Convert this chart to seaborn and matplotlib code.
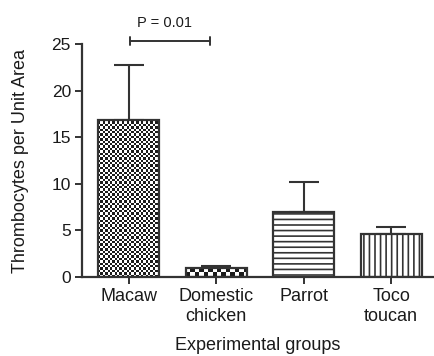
import numpy as np
import pandas as pd
import matplotlib
matplotlib.use("Agg")
import matplotlib.pyplot as plt
import seaborn as sns

# data
groups = ["Macaw", "Domestic\nchicken", "Parrot", "Toco\ntoucan"]
means = [16.9, 1.0, 6.95, 4.6]
sem = [5.85, 0.2, 3.25, 0.8]
y_ticks = [0, 5, 10, 15, 20, 25]
p_text = "P = 0.01"

sns.set_style("ticks")
plt.rcParams["font.family"] = ["Liberation Sans", "DejaVu Sans"]
plt.rcParams["hatch.linewidth"] = 1.2
plt.rcParams["hatch.color"] = "#333333"

ink = "#333333"
df = pd.DataFrame({"group": groups, "value": means})

fig = plt.figure(figsize=(4.34, 3.56), dpi=100)
ax = fig.add_axes([0.189, 0.222, 0.809, 0.654])

sns.barplot(data=df, x="group", y="value", color="white", edgecolor=ink,
            linewidth=1.6, width=0.7, errorbar=None, ax=ax, zorder=2)

# one-sided error bars (upward only)
ax.errorbar(range(len(groups)), means, yerr=[np.zeros(len(sem)), sem],
            fmt="none", ecolor=ink, elinewidth=1.5, capsize=11, capthick=1.5,
            zorder=1)

# fill patterns
bars = ax.patches
bars[2].set_hatch("---")
bars[3].set_hatch("|||")

def checker(bar, cell_px):
    x0, y0 = bar.get_x(), bar.get_y()
    w, h = bar.get_width(), bar.get_height()
    px_w = w * 88.0
    px_h = h * 233.0 / 25.0
    nx = max(1, int(round(px_w / cell_px)))
    ny = max(1, int(round(px_h / cell_px)))
    grid = (np.add.outer(np.arange(ny), np.arange(nx)) % 2).astype(float)
    bar.set_facecolor("none")
    im = ax.imshow(grid, cmap="gray", vmin=-0.12, vmax=1, extent=[x0, x0 + w, y0, y0 + h],
                   origin="lower", interpolation="nearest", aspect="auto", zorder=1.5)
    im.set_clip_path(bar)

checker(bars[0], 2.4)
checker(bars[1], 4.5)

ax.set_xlim(-0.534, 3.48)
ax.set_ylim(0, 25)
ax.set_yticks(y_ticks)
sns.despine(ax=ax)
for s in ["left", "bottom"]:
    ax.spines[s].set_linewidth(1.6)
    ax.spines[s].set_color(ink)
ax.tick_params(axis="both", colors=ink, width=1.4, length=5, labelcolor="#1a1a1a")
ax.tick_params(axis="x", labelsize=13, pad=3)
ax.tick_params(axis="y", labelsize=12.5, pad=3)

ax.set_xlabel("Experimental groups", fontsize=13, color="#1a1a1a", labelpad=9)
ax.set_ylabel("Thrombocytes per Unit Area", fontsize=13, color="#1a1a1a", labelpad=16)

# significance bracket
yb = 25.35
ax.plot([0.01, 0.93], [yb, yb], color=ink, lw=1.4, clip_on=False)
for xx in [0.01, 0.93]:
    ax.plot([xx, xx], [yb - 0.4, yb + 0.4], color=ink, lw=1.4, clip_on=False)
ax.text(0.41, 27.25, p_text, ha="center", va="center", fontsize=10.5, color="#1a1a1a")

fig.savefig("out.png", dpi=100)
